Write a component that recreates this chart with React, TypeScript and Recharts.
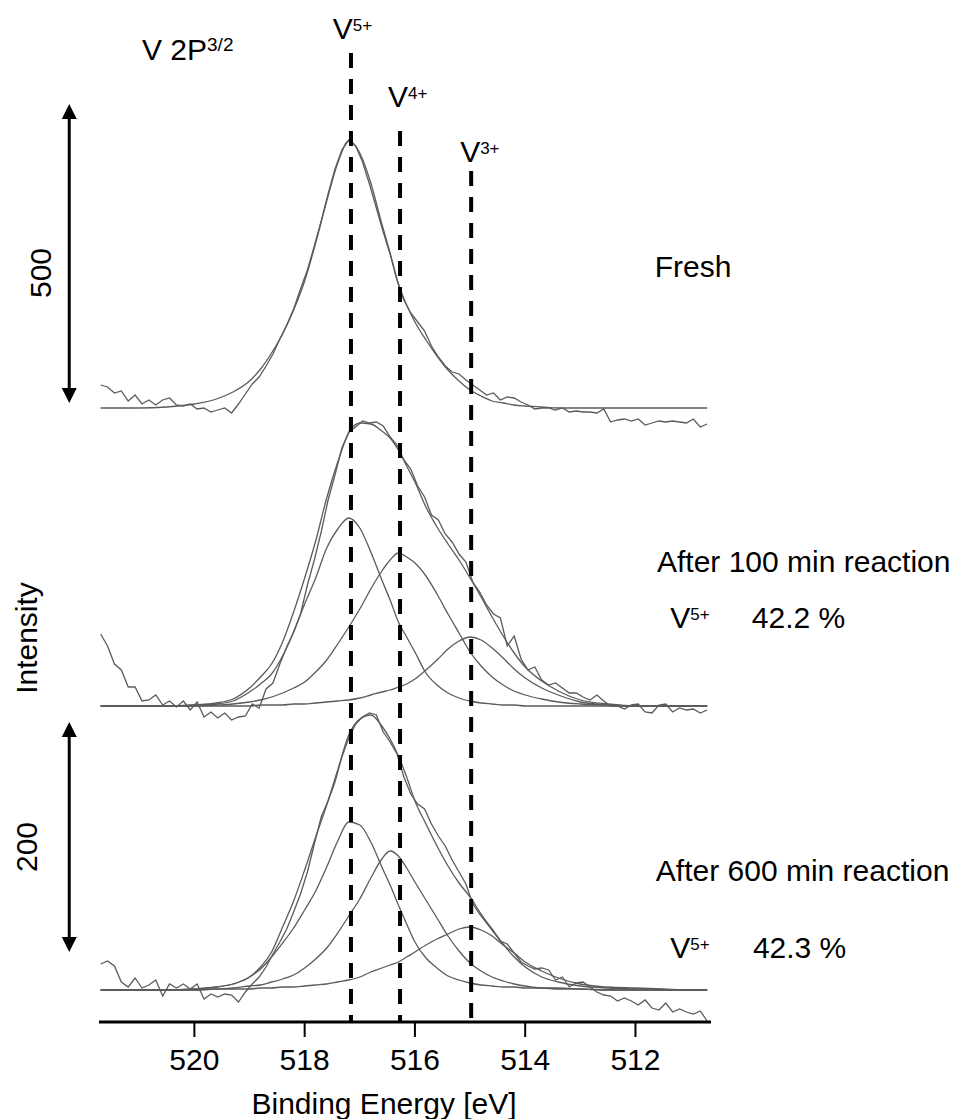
import React from 'react';
import { LineChart, Line, XAxis, YAxis, ReferenceLine, ReferenceDot } from 'recharts';

// V 2p3/2 XPS spectra, y is intensity in arbitrary offset units
const rawEnergy = [
  521.7, 521.575, 521.45, 521.325, 521.2, 521.075, 520.95, 520.825, 520.7, 520.575,
  520.45, 520.325, 520.2, 520.075, 519.95, 519.825, 519.7, 519.575, 519.45, 519.325,
  519.2, 519.075, 518.95, 518.825, 518.7, 518.575, 518.45, 518.325, 518.2, 518.075,
  517.95, 517.825, 517.7, 517.575, 517.45, 517.325, 517.2, 517.075, 516.95, 516.825,
  516.7, 516.575, 516.45, 516.325, 516.2, 516.075, 515.95, 515.825, 515.7, 515.575,
  515.45, 515.325, 515.2, 515.075, 514.95, 514.825, 514.7, 514.575, 514.45, 514.325,
  514.2, 514.075, 513.95, 513.825, 513.7, 513.575, 513.45, 513.325, 513.2, 513.075,
  512.95, 512.825, 512.7, 512.575, 512.45, 512.325, 512.2, 512.075, 511.95, 511.825,
  511.7, 511.575, 511.45, 511.325, 511.2, 511.075, 510.95, 510.825, 510.7,
];

const freshRaw = [
  637, 635, 629, 631, 621, 627, 618, 622, 617, 622,
  624, 617, 616, 618, 613, 614, 610, 612, 614, 609,
  618, 628, 638, 645, 656, 668, 683, 697, 713, 733,
  752, 776, 801, 828, 853, 872, 882, 876, 860, 838,
  814, 790, 768, 742, 722, 709, 700, 691, 676, 665,
  656, 650, 648, 642, 637, 632, 627, 629, 622, 625,
  624, 620, 617, 613, 614, 614, 612, 614, 610, 611,
  610, 610, 609, 613, 600, 602, 603, 601, 603, 597,
  599, 601, 600, 601, 600, 599, 603, 595, 598,
];

const min100Raw = [
  388, 376, 358, 352, 335, 335, 321, 322, 327, 317,
  321, 315, 321, 312, 320, 305, 310, 304, 309, 302,
  305, 306, 318, 314, 333, 339, 358, 375, 390, 408,
  437, 462, 490, 522, 547, 574, 590, 595, 601, 599,
  600, 596, 585, 577, 562, 553, 536, 525, 507, 502,
  488, 480, 468, 460, 440, 430, 417, 408, 404, 376,
  386, 363, 352, 355, 342, 337, 339, 334, 329, 329,
  325, 322, 327, 321, 316, 316, 313, 317, 318, 310,
  309, 317, 318, 310, 314, 312, 313, 309, 312,
];

const min600Raw = [
  58, 61, 56, 40, 35, 44, 34, 37, 42, 26,
  38, 34, 38, 33, 38, 23, 28, 25, 28, 27,
  20, 30, 38, 45, 55, 68, 80, 93, 110, 128,
  150, 178, 205, 221, 240, 265, 284, 298, 305, 309,
  307, 290, 280, 268, 245, 228, 218, 213, 198, 186,
  176, 162, 150, 138, 118, 108, 99, 90, 81, 78,
  69, 60, 56, 53, 54, 52, 42, 45, 35, 39,
  40, 35, 30, 27, 26, 21, 24, 21, 17, 22,
  14, 12, 19, 10, 13, 10, 8, 11, 1,
];

const fitEnergy = [
  521.7, 521.0, 520.5, 520.0, 519.6, 519.3, 519.0, 518.8, 518.6, 518.4,
  518.2, 518.0, 517.8, 517.6, 517.4, 517.2, 517.0, 516.8, 516.6, 516.45,
  516.3, 516.15, 516.0, 515.8, 515.6, 515.4, 515.2, 515.0, 514.8, 514.6,
  514.4, 514.2, 514.0, 513.7, 513.4, 513.0, 512.5, 512.0, 511.5, 511.0,
  510.7,
];

const freshFit = [
  614, 614, 615, 618, 623, 630, 641, 653, 669, 688,
  712, 741, 779, 821, 859, 881, 869, 839, 798, 769,
  738, 717, 700, 682, 666, 652, 641, 632, 626, 621,
  619, 617, 616, 615, 614, 614, 614, 614, 614, 614,
  614,
];

const min100Fit = [
  316, 316, 316, 317, 319, 323, 334, 345, 358, 380,
  410, 444, 481, 524, 560, 589, 599, 598, 591, 584,
  572, 556, 540, 515, 495, 478, 462, 444, 425, 405,
  386, 369, 355, 341, 331, 322, 318, 316, 316, 316,
  316,
];
const min100V5 = [
  316, 316, 316, 317, 318, 321, 330, 338, 348, 366,
  390, 418, 444, 474, 493, 504, 494, 470, 442, 422,
  400, 385, 370, 349, 337, 329, 324, 321, 319, 318,
  317, 317, 316, 316, 316, 316, 316, 316, 316, 316,
  316,
];
const min100V4 = [
  316, 316, 316, 316, 317, 318, 320, 322, 325, 329,
  334, 340, 350, 362, 378, 395, 413, 433, 451, 462,
  469, 465, 459, 446, 428, 408, 389, 370, 356, 345,
  337, 331, 327, 323, 320, 318, 317, 316, 316, 316,
  316,
];
const min100V3 = [
  316, 316, 316, 316, 316, 316, 316, 317, 317, 317,
  318, 318, 319, 320, 321, 322, 324, 327, 330, 332,
  335, 338, 343, 352, 362, 373, 381, 385, 382, 374,
  364, 353, 344, 334, 327, 320, 317, 316, 316, 316,
  316,
];

const min600Fit = [
  32, 32, 32, 33, 35, 38, 45, 55, 70, 95,
  121, 152, 185, 217, 252, 287, 303, 307, 296, 283,
  266, 245, 221, 198, 176, 156, 139, 125, 108, 93,
  78, 65, 55, 45, 40, 36, 34, 33, 32, 32,
  32,
];
const min600V5 = [
  32, 32, 32, 33, 35, 38, 45, 53, 65, 79,
  94, 112, 131, 155, 181, 200, 197, 180, 155, 137,
  117, 98, 80, 64, 54, 46, 42, 39, 37, 36,
  35, 35, 34, 34, 33, 33, 32, 32, 32, 32,
  32,
];
const min600V4 = [
  32, 32, 32, 32, 33, 34, 36, 37, 40, 43,
  47, 54, 63, 74, 89, 106, 123, 144, 163, 171,
  166, 154, 140, 122, 104, 86, 71, 59, 51, 45,
  41, 38, 36, 34, 34, 33, 32, 32, 32, 32,
  32,
];
const min600V3 = [
  32, 32, 32, 32, 33, 33, 33, 34, 34, 35,
  35, 36, 37, 38, 40, 42, 45, 50, 54, 57,
  60, 65, 70, 77, 83, 88, 93, 95, 92, 86,
  77, 69, 60, 51, 44, 38, 35, 34, 33, 32,
  32,
];

const xTicks = [520, 518, 516, 514, 512];

// oxidation state positions (eV) and where the dashed marker starts
const stateLines = [
  { e: 517.16, top: 969, sup: '5+', labelE: 517.49, labelV: 983 },
  { e: 516.27, top: 891, sup: '4+', labelE: 516.49, labelV: 915 },
  { e: 514.98, top: 851, sup: '3+', labelE: 515.18, labelV: 860 },
];

const sampleNotes = [
  { e: 511.65, v: 745, text: 'Fresh' },
  { e: 511.61, v: 450, text: 'After 100 min reaction' },
  { e: 511.63, v: 141, text: 'After 600 min reaction' },
];

const shareNotes = [
  { e: 511.37, pe: 509.89, v: 394, text: '42.2 %' },
  { e: 511.37, pe: 509.87, v: 64, text: '42.3 %' },
];

const scaleBars = [
  { e: 522.27, from: 918, to: 619, text: '500', textE: 522.8, textV: 749 },
  { e: 522.27, from: 300, to: 70, text: '200', textE: 523.05, textV: 175 },
];

const FONT = '"Liberation Sans", Arial, Helvetica, sans-serif';
const CURVE = '#5b5b5b';

const rows = (xs: number[], ys: number[]) => xs.map((e, i) => ({ e, v: ys[i] }));

const rawSeries = [freshRaw, min100Raw, min600Raw];
const fitSeries = [
  freshFit,
  min100Fit, min100V5, min100V4, min100V3,
  min600Fit, min600V5, min600V4, min600V3,
];

const Arrow = (props: any) => {
  const { x1, y1, y2 } = props;
  const top = Math.min(y1, y2);
  const bottom = Math.max(y1, y2);
  const head = 15;
  const half = 7.5;
  return (
    <g>
      <line x1={x1} y1={top + head - 1} x2={x1} y2={bottom - head + 1} stroke="#000" strokeWidth={3} />
      <polygon points={`${x1},${top} ${x1 - half},${top + head} ${x1 + half},${top + head}`} fill="#000" />
      <polygon points={`${x1},${bottom} ${x1 - half},${bottom - head} ${x1 + half},${bottom - head}`} fill="#000" />
    </g>
  );
};

const supText = (main: string, sup: string, supSize = 17, rise = 8) => (p: any) => (
  <text x={p.cx} y={p.cy} fontSize={30} fill="#000" fontFamily={FONT}>
    {main}
    <tspan fontSize={supSize} dy={-rise}>{sup}</tspan>
  </text>
);

const plainText = (text: string, anchor = 'start') => (p: any) => (
  <text x={p.cx} y={p.cy} fontSize={30} fill="#000" fontFamily={FONT} textAnchor={anchor}>
    {text}
  </text>
);

const upText = (text: string) => (p: any) => (
  <text
    x={p.cx}
    y={p.cy}
    fontSize={30}
    fill="#000"
    fontFamily={FONT}
    textAnchor="middle"
    dominantBaseline="central"
    transform={`rotate(-90 ${p.cx} ${p.cy})`}
  >
    {text}
  </text>
);

export default function App() {
  return (
    <div style={{ position: 'absolute', left: 0, top: 0, width: 964, height: 1119, background: '#fff', fontFamily: FONT }}>
      <LineChart width={964} height={1119} margin={{ top: 32, right: 253, bottom: 0, left: 99 }}>
        <XAxis
          dataKey="e"
          type="number"
          domain={[510.63, 521.73]}
          reversed
          allowDataOverflow
          ticks={xTicks}
          height={97}
          tickSize={15}
          tickMargin={12}
          axisLine={{ stroke: '#000', strokeWidth: 3 }}
          tickLine={{ stroke: '#000', strokeWidth: 2 }}
          tick={{ fontSize: 30, fill: '#000', fontFamily: FONT }}
        />
        <YAxis
          type="number"
          domain={[0, 990]}
          allowDataOverflow
          width={0}
          tick={false}
          tickLine={false}
          axisLine={{ stroke: '#000', strokeWidth: 3 }}
        />

        {fitSeries.map((ys, i) => (
          <Line
            key={`fit-${i}`}
            data={rows(fitEnergy, ys)}
            dataKey="v"
            type="monotone"
            stroke={CURVE}
            strokeWidth={1.3}
            dot={false}
            activeDot={false}
            isAnimationActive={false}
          />
        ))}
        {rawSeries.map((ys, i) => (
          <Line
            key={`raw-${i}`}
            data={rows(rawEnergy, ys)}
            dataKey="v"
            type="linear"
            stroke={CURVE}
            strokeWidth={1.3}
            dot={false}
            activeDot={false}
            isAnimationActive={false}
          />
        ))}

        {stateLines.map((s) => (
          <ReferenceLine
            key={`line-${s.sup}`}
            segment={[{ x: s.e, y: s.top }, { x: s.e, y: 0 }]}
            stroke="#000"
            strokeWidth={4}
            strokeDasharray="15 11"
            ifOverflow="visible"
          />
        ))}
        {stateLines.map((s) => (
          <ReferenceDot key={`lab-${s.sup}`} x={s.labelE} y={s.labelV} r={0} ifOverflow="visible" shape={supText('V', s.sup)} />
        ))}
        <ReferenceDot x={520.95} y={962} r={0} ifOverflow="visible" shape={supText('V 2P', '3/2', 19, 9)} />

        {sampleNotes.map((n) => (
          <ReferenceDot key={n.text} x={n.e} y={n.v} r={0} ifOverflow="visible" shape={plainText(n.text)} />
        ))}
        {shareNotes.map((n) => (
          <ReferenceDot key={`v-${n.text}`} x={n.e} y={n.v} r={0} ifOverflow="visible" shape={supText('V', '5+')} />
        ))}
        {shareNotes.map((n) => (
          <ReferenceDot key={`p-${n.text}`} x={n.pe} y={n.v} r={0} ifOverflow="visible" shape={plainText(n.text)} />
        ))}

        {scaleBars.map((b) => (
          <ReferenceLine
            key={`bar-${b.text}`}
            segment={[{ x: b.e, y: b.from }, { x: b.e, y: b.to }]}
            ifOverflow="visible"
            shape={Arrow}
          />
        ))}
        {scaleBars.map((b) => (
          <ReferenceDot key={`bt-${b.text}`} x={b.textE} y={b.textV} r={0} ifOverflow="visible" shape={upText(b.text)} />
        ))}
        <ReferenceDot x={523.04} y={384} r={0} ifOverflow="visible" shape={upText('Intensity')} />
        <ReferenceDot x={516.56} y={-92} r={0} ifOverflow="visible" shape={plainText('Binding Energy [eV]', 'middle')} />
      </LineChart>
    </div>
  );
}
